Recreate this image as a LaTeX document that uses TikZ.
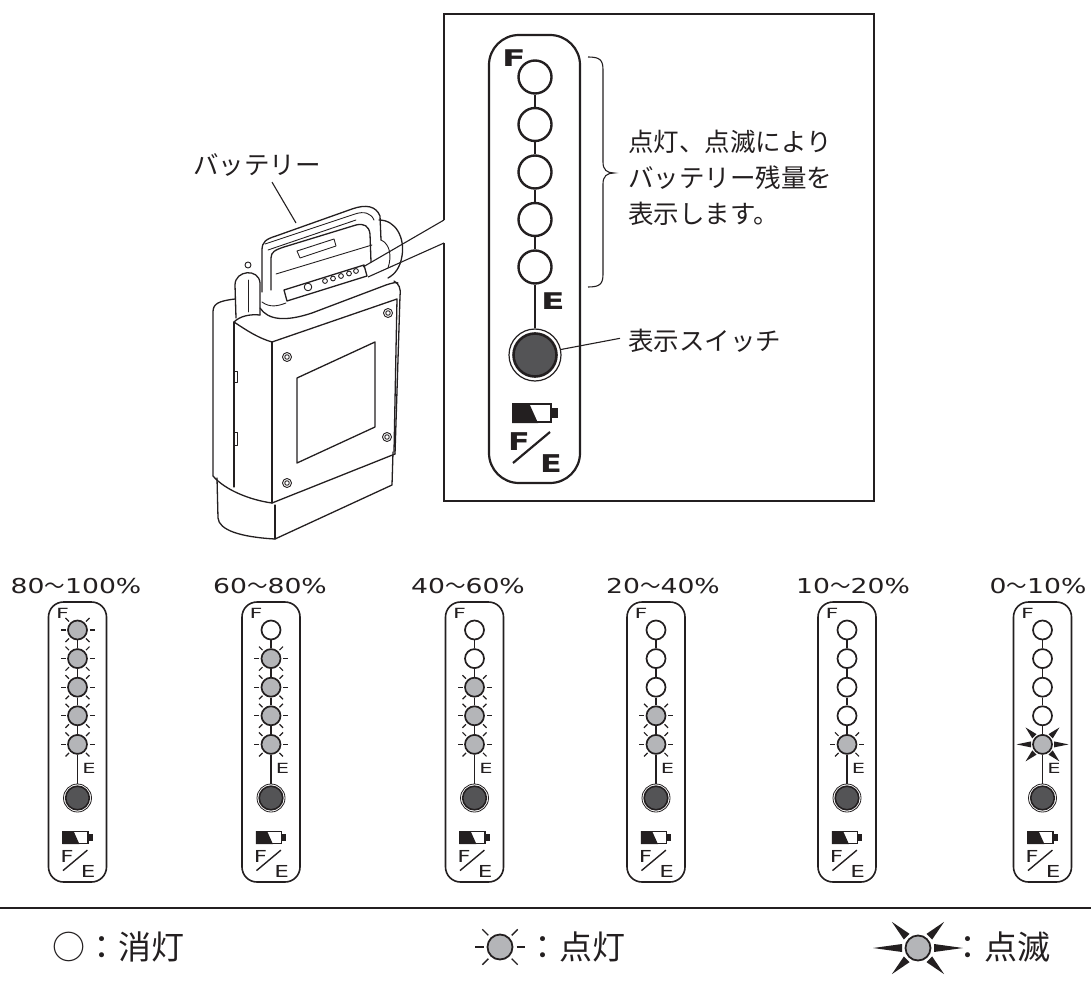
\documentclass[tikz,border=0pt]{standalone}
\usepackage{fontspec}
\usepackage{graphicx}
\newfontfamily\jpfont{Noto Sans CJK JP}
\newfontfamily\numfont[FakeStretch=1.3]{DejaVu Sans}
\newfontfamily\letterfont{DejaVu Sans}
\usetikzlibrary{calc}
\definecolor{ink}{HTML}{231F20}
\definecolor{litfill}{HTML}{B4B5B8}
\definecolor{swfill}{HTML}{545456}

% wide capital letter for the F / E marks
\newcommand\wide[2]{\scalebox{#1}[1]{#2}}

\tikzset{
  frameline/.style={draw=ink, line width=2pt},
  batline/.style={draw=ink, line width=1.3pt, line join=round, line cap=round},
  batthin/.style={draw=ink, line width=0.9pt, line join=round, line cap=round},
  leader/.style={draw=ink, line width=1.1pt},
  bigpanel/.style={draw=ink, line width=2.2pt, rounded corners=30pt},
  smallpanel/.style={draw=ink, line width=1.6pt, rounded corners=15pt},
  bigled/.style={circle, draw=ink, line width=2.4pt, fill=white, minimum size=33pt, inner sep=0pt},
  smallled/.style={circle, draw=ink, line width=1.7pt, minimum size=19pt, inner sep=0pt},
  bigsw/.style={circle, draw=ink, line width=1.2pt, fill=white, minimum size=52pt, inner sep=0pt},
  smallsw/.style={circle, draw=ink, line width=0.8pt, fill=white, minimum size=28pt, inner sep=0pt},
  bigchain/.style={draw=ink, line width=2pt},
  smallchain/.style={draw=ink, line width=1.6pt},
  ray/.style={draw=ink, line width=1.2pt, line cap=butt},
  jptext/.style={inner sep=0pt, font=\jpfont\fontsize{25.5pt}{30pt}\selectfont, text=ink},
  legtext/.style={inner sep=0pt, font=\jpfont\fontsize{33pt}{38pt}\selectfont, text=ink},
  pctlabel/.style={inner sep=0pt, anchor=base, font=\numfont\fontsize{20.5pt}{24pt}\selectfont, text=ink},
  bigletter/.style={inner sep=0pt, font=\letterfont\bfseries\fontsize{23pt}{26pt}\selectfont, text=ink},
  smallletter/.style={inner sep=0pt, font=\letterfont\fontsize{14pt}{16pt}\selectfont, text=ink},
}

% short glow strokes around a lit lamp
\newcommand\glowrays[4]{%
  \foreach \a in {0,45,135,180,225,315}
    \draw[ray, line width=#4] ($(#1.center)+(\a:#2)$) -- ($(#1.center)+(\a:#3)$);
}
% solid wedges around a flashing lamp: #2 inner radius, #3 outer radius (sideways),
% #4 outer radius (diagonal), #5 half width of the wedge base
\newcommand\blinkrays[5]{%
  \foreach \a/\r in {0/#3,180/#3,45/#4,135/#4,225/#4,315/#4}
    \fill[ink] ($(#1.center)+(\a:#2)+({\a+90}:#5)$) -- ($(#1.center)+(\a:\r)$)
      -- ($(#1.center)+(\a:#2)+({\a-90}:#5)$) -- cycle;
}
\newcommand\ledfxo[1]{}
\newcommand\ledfxl[1]{\glowrays{#1}{12}{17}{1.2pt}}
\newcommand\ledfxb[1]{\blinkrays{#1}{11.5}{26}{24}{3}}

% battery gauge icon with the F/E mark below it
% #1 x, #2 top y, #3 scale, #4 line width, #5 letter font, #6 letter stretch
\newcommand\batticon[6]{%
  \begin{scope}[shift={(#1,#2)}, scale=#3]
    \fill[ink] (-23,0) -- (-6,0) -- (3,20) -- (-23,20) -- cycle;
    \draw[ink, line width=#4] (-22,1) rectangle (16,19);
    \fill[ink] (16,5) rectangle (23,15);
    \draw[ink, line width=#4] (-22,60) -- (15,29);
    \node[inner sep=0pt, font=#5, text=ink] at (-16,39) {\wide{#6}{F}};
    \node[inner sep=0pt, font=#5, text=ink] at (16,61) {\wide{#6}{E}};
  \end{scope}}

% one charge-level panel: #1 centre x, #2 label x, #3 name, #4 label, #5 lamp states
\newcommand\statepanel[5]{%
  \node[pctlabel] (#3-lbl) at (#2,593) {#4};
  \draw[smallpanel] (#1-29,602) rectangle (#1+29,882);
  \node[smallletter] (#3-f) at (#1-15,613) {\wide{1.6}{F}};
  \foreach \st [count=\k] in {#5} {
    \if\st o\def\lampc{white}\else\def\lampc{litfill}\fi
    \node[smallled, fill=\lampc] (#3-\k) at (#1,{630+28.6*(\k-1)}) {};
  }
  \node[smallsw] (#3-sw) at (#1,798) {};
  \path[draw=ink, line width=1.6pt, fill=swfill] (#3-sw.center) circle (11.8);
  \foreach \k [evaluate=\k as \n using int(\k+1)] in {1,...,4}
    \draw[smallchain] (#3-\k) -- (#3-\n);
  \draw[smallchain] (#3-5) -- (#3-sw);
  \node[smallletter] (#3-e) at (#1+11.5,768) {\wide{1.5}{E}};
  \foreach \st [count=\k] in {#5} { \csname ledfx\st\endcsname{#3-\k} }
  \batticon{#1}{831}{0.66}{1.4pt}{\letterfont\fontsize{16.5pt}{17pt}\selectfont}{1.4}
}

\begin{document}
\begin{tikzpicture}[x=1pt, y=-1pt]
\useasboundingbox (0,0) rectangle (1091,981);

% ---------------- battery pack ----------------
\node[jptext, anchor=base] (batlabel) at (257,175) {バッテリー};
% lower base block
\draw[batline] (217,478) -- (218,518) .. controls (219,530) and (240,537) .. (275,539) -- (392,485) -- (393,452);
\draw[batline] (275,505) -- (275,539);
% main case
\draw[batline] (213,476) -- (213,312) .. controls (213,304) and (218,301) .. (235,299);
\draw[batline] (213,476) .. controls (225,490) and (250,500) .. (272,503) -- (395,454);
\draw[batline] (395,454) -- (400,296) .. controls (401,288) and (399,284) .. (394,281);
\draw[batline] (234,322) -- (234,487);
\draw[batline] (234,322) .. controls (246,330) and (258,338) .. (272,342);
\draw[batline] (272,342) -- (397,299) -- (394,452);
\draw[batline] (272,342) -- (272,503);
% label plate and screws
\draw[batline] (297,378) -- (375,342) -- (375,427) -- (297,463) -- cycle;
\foreach \p in {(287,357),(388,313),(387,437),(287,483)} {
  \draw[batthin] \p circle (4.5);
  \draw[batthin] \p circle (2.3);
}
\draw[batthin] (234,371) rectangle (237,382);
\draw[batthin] (234,432) rectangle (237,445);
% top shoulder around the handle
\draw[batline] (234,322) .. controls (240,316) and (250,314) .. (260,315);
\draw[batline] (260,308) .. controls (268,320) and (285,322) .. (312,313) -- (386,285) .. controls (392,283) and (396,282) .. (398,283);
\draw[batthin] (262,302) .. controls (270,308) and (278,306) .. (286,303);
\draw[batthin] (276,274) -- (372,245);
% clip post on the left
\draw[batline] (236,318) -- (235,285) .. controls (235,270) and (259,268) .. (260,283) -- (260,315);
\draw[batthin] (248,280) -- (248,312);
\draw[batthin] (248,265) circle (3);
% display strip with switch and lamps
\draw[batline] (284,290) -- (364,265) -- (367,276) -- (287,301) -- cycle;
\draw[batthin] (308,287) circle (3.8);
\foreach \q in {(325,281),(333,278.5),(341,276),(349,273.5),(356,271)}
  \draw[batthin] \q circle (2.4);
\coordinate (stripA) at (363,267);
\coordinate (stripB) at (368,277);
% carrying handle
\draw[batline] (262,292) -- (262,250) .. controls (262,242) and (266,239) .. (276,236) -- (352,209) .. controls (366,204) and (376,206) .. (380,216) -- (381,240);
\draw[batline] (271,290) -- (271,258) .. controls (271,252) and (275,250) .. (284,247) -- (356,225) .. controls (364,223) and (369,226) .. (370,234) -- (371,262);
\draw[batthin] (265,244) -- (355,214) .. controls (364,211) and (371,213) .. (374,220);
\draw[batthin] (268,250) -- (356,220);
\draw[batthin] (297,251) -- (334,239) -- (336,246) -- (300,258) -- cycle;
% hinge loop on the right of the handle
\draw[batline] (379,220) .. controls (396,220) and (405,238) .. (402,256) .. controls (400,268) and (395,274) .. (388,278);
\draw[batthin] (381,240) .. controls (390,244) and (392,256) .. (388,268);
% leader for the pack label
\draw[leader] ([xshift=15pt,yshift=-5pt]batlabel.south) -- (296,223);

% ---------------- enlarged display ----------------
\coordinate (gapTop) at (444,220);
\coordinate (gapBot) at (444,243);
\draw[frameline] (gapTop) -- (444,14) -- (874,14) -- (874,501) -- (444,501) -- (gapBot);
\draw[leader] (stripA) -- (gapTop);
\draw[leader] (stripB) -- (gapBot);

\draw[bigpanel] (489,35) rectangle (580,483);
\node[bigletter] (bigF) at (514,58) {\wide{1.5}{F}};
\foreach \k in {1,...,5}
  \node[bigled] (big-\k) at (535,{77+47.5*(\k-1)}) {};
\node[bigsw] (big-sw) at (535,355) {};
\path[draw=ink, line width=2.6pt, fill=swfill] (big-sw.center) circle (21.5);
\foreach \k [evaluate=\k as \n using int(\k+1)] in {1,...,4}
  \draw[bigchain] (big-\k) -- (big-\n);
\draw[bigchain] (big-5) -- (big-sw);
\node[bigletter] (bigE) at (553,301) {\wide{1.5}{E}};
\batticon{535}{403}{1}{2.2pt}{\letterfont\bfseries\fontsize{24.5pt}{26pt}\selectfont}{1.3}

% bracket over the five lamps
\draw[ink, line width=1.1pt] (588,57) .. controls (600,57) and (603,60) .. (603,70) -- (603,162)
  .. controls (603,170) and (607,173) .. (614,173) .. controls (607,173) and (603,176) .. (603,184)
  -- (603,274) .. controls (603,284) and (600,287) .. (588,287);
\node[jptext, anchor=base west] (desc1) at (628,152) {点灯、点滅により};
\node[jptext, anchor=base west] (desc2) at (628,188) {バッテリー残量を};
\node[jptext, anchor=base west] (desc3) at (628,224) {表示します。};

\node[jptext, anchor=base west] (swlabel) at (628,350) {表示スイッチ};
\draw[leader] (big-sw.12) -- ([xshift=-8pt, yshift=2pt]swlabel.west);

% ---------------- charge levels ----------------
\statepanel{77.5}{76}{p1}{80{\jpfont 〜}100\%}{l,l,l,l,l}
\statepanel{271}{270}{p2}{60{\jpfont 〜}80\%}{o,l,l,l,l}
\statepanel{474.5}{468}{p3}{40{\jpfont 〜}60\%}{o,o,l,l,l}
\statepanel{656}{663}{p4}{20{\jpfont 〜}40\%}{o,o,o,l,l}
\statepanel{847}{853}{p5}{10{\jpfont 〜}20\%}{o,o,o,o,l}
\statepanel{1042.5}{1038}{p6}{0{\jpfont 〜}10\%}{o,o,o,o,b}

% ---------------- legend ----------------
\draw[ink, line width=2.4pt] (0,908) -- (1091,908);
\node[legtext, anchor=base west] (legoff) at (52,959.5) {○：消灯};
\node[circle, draw=ink, line width=1.8pt, fill=litfill, minimum size=25pt, inner sep=0pt] (legon) at (500,947) {};
\glowrays{legon}{16.5}{25}{1.4pt}
\node[legtext, anchor=base west] (legontext) at (526,959.5) {：点灯};
\node[circle, draw=ink, line width=1.8pt, fill=litfill, minimum size=25pt, inner sep=0pt] (legblink) at (918,948) {};
\blinkrays{legblink}{16}{45}{37}{4}
\node[legtext, anchor=base west] (legblinktext) at (951,959.5) {：点滅};
\end{tikzpicture}
\end{document}
